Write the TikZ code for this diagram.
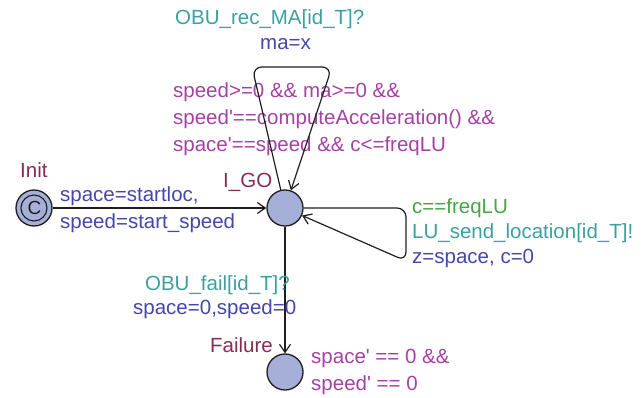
\documentclass[tikz,border=0pt]{standalone}
\usepackage{fontspec}
\setmainfont{Liberation Sans}[Ligatures=TeXOff]
\usetikzlibrary{arrows.meta}
\definecolor{namecol}{RGB}{135,45,85}
\definecolor{synccol}{RGB}{60,160,160}
\definecolor{updcol}{RGB}{70,70,170}
\definecolor{guardcol}{RGB}{70,165,70}
\definecolor{invcol}{RGB}{165,65,165}
\definecolor{locfill}{RGB}{165,175,215}
\definecolor{edgecol}{RGB}{30,30,30}
\tikzset{
  loc/.style={circle,draw=edgecol,fill=locfill,line width=1.3pt,minimum size=36pt,inner sep=0pt},
  lbl/.style={anchor=base west,inner sep=0pt,font=\fontsize{20.5}{24}\selectfont},
  namelbl/.style={lbl,text=namecol},
  synclbl/.style={lbl,text=synccol},
  updlbl/.style={lbl,text=updcol},
  guardlbl/.style={lbl,text=guardcol},
  invlbl/.style={lbl,text=invcol},
  edge/.style={draw=edgecol,line width=1.2pt,-{Straight Barb[length=8pt,width=11pt,line width=1.2pt]}},
}
\begin{document}
\begin{tikzpicture}[x=1pt,y=-1pt]
\useasboundingbox (0,0) rectangle (644,398);
% locations
\node[loc] (init) at (34,208) {};
\draw[edgecol,line width=1.1pt] (init.center) circle[radius=13pt];
\node[inner sep=0pt,font=\fontsize{19}{19}\selectfont,text=edgecol] (initC) at (34.5,208) {C};
\node[loc] (igo) at (285,208) {};
\node[loc] (fail) at (285,372) {};
% location names
\node[namelbl] (initname) at (20,177) {Init};
\node[namelbl] (igoname) at (223,187) {I\_GO};
\node[namelbl] (failname) at (210,352) {Failure};
% invariants
\node[invlbl] (inv1) at (173,98) {speed>=0 \&\& ma>=0 \&\&};
\node[invlbl] (inv2) at (173,125) {speed'==computeAcceleration() \&\&};
\node[invlbl] (inv3) at (173,152) {space'==speed \&\& c<=freqLU};
\node[invlbl] (finv1) at (311,363) {space' == 0 \&\&};
\node[invlbl] (finv2) at (311,390) {speed' == 0};
% edge Init -> I_GO
\draw[edge] (init) -- (igo);
\node[updlbl] (u1a) at (60,201) {space=startloc,};
\node[updlbl] (u1b) at (60,228) {speed=start\_speed};
% top self loop
\coordinate (tl) at (252,67);
\coordinate (tr) at (332,67);
\draw[edge,rounded corners=10pt] (igo) -- (tl) -- (tr) -- (igo);
\node[synclbl] (s2) at (175,25) {OBU\_rec\_MA[id\_T]?};
\node[updlbl] (u2) at (260,50) {ma=x};
% right self loop
\coordinate (rt) at (406,208);
\coordinate (rb) at (406,261);
\draw[edge,rounded corners=9pt] (igo) -- (rt) -- (rb) -- (igo);
\node[guardlbl] (g3) at (412,213) {c==freqLU};
\node[synclbl] (s3) at (412,238) {LU\_send\_location[id\_T]!};
\node[updlbl] (u3) at (412,263) {z=space, c=0};
% edge I_GO -> Failure
\draw[edge] (igo) -- (fail);
\node[synclbl,anchor=base east] (s4) at (290,290) {OBU\_fail[id\_T]?};
\node[updlbl] (u4) at (133,314) {space=0,speed=0};
\end{tikzpicture}
\end{document}
